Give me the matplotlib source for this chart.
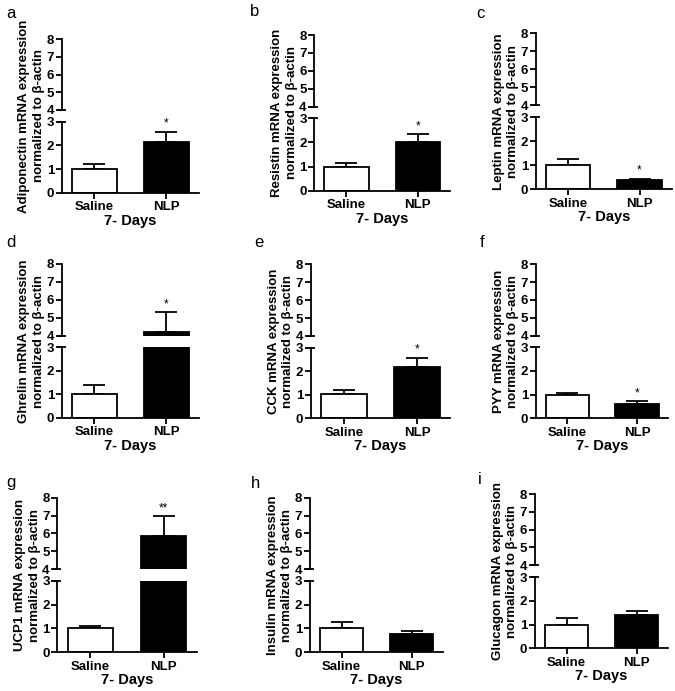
import matplotlib
matplotlib.use("Agg")
import matplotlib.pyplot as plt

plt.rcParams['font.family'] = ['Liberation Sans', 'DejaVu Sans']

# ---------------- data ----------------
panel_letters = ["a", "b", "c", "d", "e", "f", "g", "h", "i"]
genes = ["Adiponectin", "Resistin", "Leptin", "Ghrelin", "CCK", "PYY", "UCP1", "Insulin", "Glucagon"]
groups = ["Saline", "NLP"]
saline_mean = [1.0, 1.0, 1.0, 1.0, 1.05, 1.0, 1.0, 1.0, 1.0]
saline_err = [0.22, 0.15, 0.26, 0.38, 0.17, 0.08, 0.10, 0.25, 0.26]
nlp_mean = [2.15, 2.0, 0.38, 4.22, 2.17, 0.62, 5.85, 0.78, 1.42]
nlp_err = [0.43, 0.33, 0.05, 1.08, 0.40, 0.10, 1.12, 0.13, 0.17]
significance = ["*", "*", "*", "*", "*", "*", "**", "", ""]
xlabel_text = "7- Days"
lower_ticks = [0, 1, 2, 3]
upper_ticks = [4, 5, 6, 7, 8]

# ---------------- layout (pixels) ----------------
W, H = 675, 691
# (spine_x, axis_end_x, y8, y4, y3, y0)
geom = [
    (61.7, 199.0, 39.0, 110.0, 121.7, 192.7),
    (314.3, 450.0, 35.0, 106.7, 118.3, 190.7),
    (536.0, 671.7, 33.3, 105.0, 117.0, 189.3),
    (61.7, 199.0, 264.0, 335.5, 347.0, 418.0),
    (311.0, 450.0, 264.3, 336.0, 347.7, 418.3),
    (536.0, 668.3, 264.0, 336.0, 347.3, 418.3),
    (57.3, 196.7, 497.7, 569.3, 580.7, 652.3),
    (310.0, 443.3, 497.7, 569.0, 580.7, 652.3),
    (535.0, 668.3, 494.3, 565.0, 577.3, 648.3),
]
letter_pos = [(6, 14), (250, 12), (476, 14), (6, 242), (254, 242), (480, 242),
              (6, 482), (251, 484), (478, 480)]

fig = plt.figure(figsize=(W / 100, H / 100), dpi=100)
fig.patch.set_facecolor("white")

lw = 1.3
fs = 9.5
xlim = (-0.45, 1.45)
bw = 0.62
xs = [0, 1]
colors = ["white", "black"]


def style(ax, ticks, ylim):
    ax.set_ylim(*ylim)
    ax.set_xlim(*xlim)
    ax.set_yticks(ticks)
    ax.set_yticklabels([str(t) for t in ticks], fontsize=9.5, fontweight="bold")
    for s in ["top", "right"]:
        ax.spines[s].set_visible(False)
    ax.spines["left"].set_linewidth(lw)
    ax.spines["bottom"].set_linewidth(lw)
    ax.tick_params(axis="y", direction="out", length=4, width=lw, pad=1.5)
    ax.tick_params(axis="x", direction="out", length=4, width=lw, pad=2)
    ax.set_facecolor("none")


for k in range(9):
    sx, ex, y8, y4, y3, y0 = geom[k]
    left = sx / W
    width = (ex - sx) / W
    ax_up = fig.add_axes([left, 1 - y4 / H, width, (y4 - y8) / H])
    ax_lo = fig.add_axes([left, 1 - y0 / H, width, (y0 - y3) / H])
    means = [saline_mean[k], nlp_mean[k]]
    errs = [saline_err[k], nlp_err[k]]
    for ax in (ax_up, ax_lo):
        ax.bar(xs, means, width=bw, color=colors, edgecolor="black",
               linewidth=lw, zorder=2)
        ax.errorbar(xs, means, yerr=[[0, 0], errs], fmt="none", ecolor="black",
                    elinewidth=lw, capsize=8, capthick=lw, zorder=1)
    style(ax_up, upper_ticks, (4, 8))
    style(ax_lo, lower_ticks, (0, 3))
    ax_up.spines["bottom"].set_visible(False)
    ax_up.set_xticks([])
    ax_lo.set_xticks(xs)
    ax_lo.set_xticklabels(groups, fontsize=fs, fontweight="bold")

    # break marks (ticks crossing the spine)
    wpx = ex - sx
    ax_up.plot([-4 / wpx, 4 / wpx], [0, 0], transform=ax_up.transAxes,
               color="black", lw=lw, clip_on=False, solid_capstyle="butt")
    ax_lo.plot([-4 / wpx, 4 / wpx], [1, 1], transform=ax_lo.transAxes,
               color="black", lw=lw, clip_on=False, solid_capstyle="butt")

    # significance marks
    if significance[k]:
        top = nlp_mean[k] + nlp_err[k]
        target = ax_up if top > 3.5 else ax_lo
        target.annotate(significance[k], xy=(1, top), xytext=(0, 1.5),
                        textcoords="offset points", ha="center", va="bottom",
                        fontsize=8.5)

    # x label
    fig.text((sx + ex) / 2 / W, 1 - (y0 + 28) / H, xlabel_text, ha="center",
             va="center", fontsize=10.5, fontweight="bold")
    # y label
    fig.text((sx - 30) / W, 1 - (y8 + y0) / 2 / H,
             f"{genes[k]} mRNA expression\nnormalized to β-actin",
             rotation=90, ha="center", va="center", fontsize=fs,
             fontweight="bold", linespacing=1.3)
    # panel letter
    lx, ly = letter_pos[k]
    fig.text(lx / W, 1 - ly / H, panel_letters[k], ha="left", va="center",
             fontsize=12)

fig.savefig("out.png", dpi=100, facecolor="white")
